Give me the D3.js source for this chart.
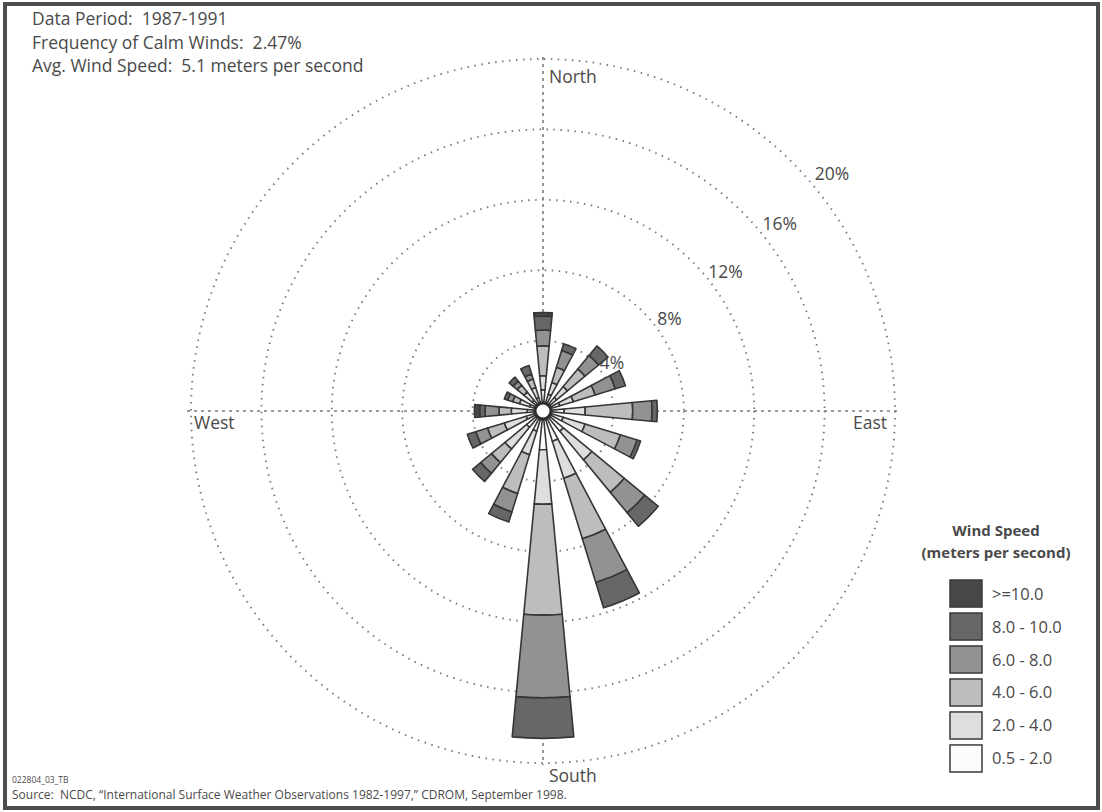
<!DOCTYPE html>
<html>
<head>
<meta charset="utf-8">
<script src="https://cdn.jsdelivr.net/npm/d3@7"></script>
<style>
    body { margin: 0; background: #fff; }
    #rose { width: 1102px; height: 812px; }
    text { font-family: "Open Sans", "Noto Sans", sans-serif; fill: #4a4a4a; }
</style>
</head>
<body>
<div id="rose"></div>
<script>
// 16 compass directions, clockwise from north
let directions = ["N", "NNE", "NE", "ENE", "E", "ESE", "SE", "SSE", "S", "SSW", "SW", "WSW", "W", "WNW", "NW", "NNW"];

// frequency (%) of each speed band per direction
let band_0_5_2  = [1.2, 1.0, 1.0, 1.0, 1.2, 1.2, 1.5, 1.8, 2.2, 1.2, 1.2, 1.0, 0.9, 0.8, 0.8, 0.8];
let band_2_4    = [0.8, 0.7, 0.8, 0.8, 1.2, 1.3, 2.1, 2.2, 3.1, 1.4, 1.6, 1.3, 0.9, 0.6, 0.6, 0.6];
let band_4_6    = [1.7, 0.9, 1.3, 1.3, 2.7, 2.1, 2.4, 3.6, 6.3, 2.3, 1.0, 1.0, 0.7, 0.4, 0.5, 0.5];
let band_6_8    = [0.9, 1.0, 1.0, 1.2, 1.1, 1.0, 1.5, 2.6, 4.7, 1.1, 0.8, 0.7, 0.8, 0.3, 0.3, 0.3];
let band_8_10   = [0.8, 0.4, 0.7, 0.6, 0.3, 0.2, 1.0, 1.5, 2.3, 0.6, 0.6, 0.5, 0.3, 0.2, 0.3, 0.5];
let band_10_up  = [0.2, 0.0, 0.0, 0.0, 0.0, 0.0, 0.0, 0.0, 0.0, 0.0, 0.0, 0.0, 0.3, 0.0, 0.0, 0.0];

// legend, inner band first
let bandKeys   = ["b1", "b2", "b3", "b4", "b5", "b6"];
let bandLabels = ["0.5 - 2.0", "2.0 - 4.0", "4.0 - 6.0", "6.0 - 8.0", "8.0 - 10.0", ">=10.0"];
let bandColors = ["#fbfbfb", "#dedede", "#bdbdbd", "#929292", "#676767", "#474747"];

let ringTicks  = [4, 8, 12, 16, 20];
let ringLabels = ["4%", "8%", "12%", "16%", "20%"];

let notes = ["Data Period:  1987-1991", "Frequency of Calm Winds:  2.47%", "Avg. Wind Speed:  5.1 meters per second"];
let sourceId = "022804_03_TB";
let sourceText = "Source:  NCDC, \u201cInternational Surface Weather Observations 1982-1997,\u201d CDROM, September 1998.";

let width = 1102;
let height = 812;
let cx = 543;
let cy = 411;

let svg, rose;
let rScale = d3.scaleLinear().domain([0, 20]).range([0, 352]);
let aScale = d3.scaleLinear().domain([0, directions.length]).range([0, 2 * Math.PI]);

function initSvg() {
    svg = d3.select("#rose").append("svg")
        .attr("width", width)
        .attr("height", height);

    // frame round the picture
    svg.append("rect")
        .attr("x", 5).attr("y", 4)
        .attr("width", width - 9).attr("height", height - 8)
        .attr("fill", "#fff")
        .attr("stroke", "#4d4d4d")
        .attr("stroke-width", 4);

    rose = svg.append("g").attr("transform", "translate(" + cx + "," + cy + ")");
}

function drawGrid() {
    let rMax = rScale(20);

    rose.selectAll(".ring")
        .data(ringTicks)
        .enter()
        .append("circle")
        .attr("class", "ring")
        .attr("r", d => rScale(d))
        .attr("fill", "none")
        .attr("stroke", "#7a7a7a")
        .attr("stroke-width", 1.9)
        .attr("stroke-dasharray", "1.5,5.5");

    // N-S and E-W axis
    rose.append("line")
        .attr("x1", 0).attr("y1", -rMax - 2)
        .attr("x2", 0).attr("y2", rMax + 2)
        .attr("stroke", "#7a7a7a").attr("stroke-width", 1.6)
        .attr("stroke-dasharray", "3,4");
    rose.append("line")
        .attr("x1", -rMax - 4).attr("y1", 0)
        .attr("x2", rMax + 4).attr("y2", 0)
        .attr("stroke", "#7a7a7a").attr("stroke-width", 1.6)
        .attr("stroke-dasharray", "3,4");

    // ring labels along the NE side, drifting a little toward north on the outer rings
    let ang = d => (56 - 0.27 * d) * Math.PI / 180;
    let dist = d => rScale(d) + 12 + d * 0.5;
    rose.selectAll(".ring_label")
        .data(ringTicks)
        .enter()
        .append("text")
        .attr("class", "ring_label")
        .attr("x", d => dist(d) * Math.sin(ang(d)))
        .attr("y", d => -dist(d) * Math.cos(ang(d)))
        .attr("dy", "0.35em")
        .attr("text-anchor", "middle")
        .attr("font-size", 17.5)
        .text((d, i) => ringLabels[i]);

    rose.append("text").attr("x", 6).attr("y", -rMax + 24).attr("font-size", 17.5).text("North");
    rose.append("text").attr("x", 6).attr("y", rMax + 19).attr("font-size", 17.5).text("South");
    rose.append("text").attr("x", -rMax + 3).attr("y", 18).attr("font-size", 17.5).text("West");
    rose.append("text").attr("x", rMax - 8).attr("y", 18).attr("font-size", 17.5)
        .attr("text-anchor", "end").text("East");
}

function drawPetals() {
    let table = directions.map((d, i) => ({
        dir: d,
        b1: band_0_5_2[i],
        b2: band_2_4[i],
        b3: band_4_6[i],
        b4: band_6_8[i],
        b5: band_8_10[i],
        b6: band_10_up[i]
    }));

    let series = d3.stack().keys(bandKeys)(table);
    let half = 5.4 * Math.PI / 180;

    let arc = d3.arc()
        .innerRadius(d => Math.max(rScale(d[0]), 9))
        .outerRadius(d => rScale(d[1]))
        .startAngle(d => aScale(directions.indexOf(d.data.dir)) - half)
        .endAngle(d => aScale(directions.indexOf(d.data.dir)) + half);

    let layer = rose.selectAll(".band")
        .data(series)
        .enter()
        .append("g")
        .attr("class", "band")
        .attr("fill", (d, i) => bandColors[i]);

    layer.selectAll("path")
        .data(d => d.filter(p => p[1] - p[0] > 0))
        .enter()
        .append("path")
        .attr("d", arc)
        .attr("stroke", "#363636")
        .attr("stroke-width", 1.6)
        .attr("stroke-linejoin", "round");

    // calm circle in the middle
    rose.append("circle")
        .attr("r", 8)
        .attr("fill", "#fff")
        .attr("stroke", "#2e2e2e")
        .attr("stroke-width", 3);
}

function drawLegend() {
    let lg = svg.append("g").attr("transform", "translate(950,0)");
    lg.append("text").attr("x", 46).attr("y", 536)
        .attr("text-anchor", "middle").attr("font-size", 15).attr("font-weight", "bold")
        .text("Wind Speed");
    lg.append("text").attr("x", 46).attr("y", 558)
        .attr("text-anchor", "middle").attr("font-size", 15).attr("font-weight", "bold")
        .text("(meters per second)");

    let items = bandLabels.map((d, i) => ({label: d, color: bandColors[i]})).reverse();
    let yScale = d3.scaleBand().domain(items.map(d => d.label)).range([580, 772]).paddingInner(0.18);

    lg.selectAll(".legend")
        .data(items)
        .enter()
        .append("rect")
        .attr("class", "legend")
        .attr("x", 0)
        .attr("y", d => yScale(d.label))
        .attr("width", 32)
        .attr("height", yScale.bandwidth())
        .attr("fill", d => d.color)
        .attr("stroke", "#3a3a3a")
        .attr("stroke-width", 1.5);

    lg.selectAll(".legend_text")
        .data(items)
        .enter()
        .append("text")
        .attr("class", "legend_text")
        .attr("x", 42)
        .attr("y", d => yScale(d.label) + yScale.bandwidth() / 2 + 6)
        .attr("font-size", 16.5)
        .text(d => d.label);
}

function drawNotes() {
    svg.selectAll(".note")
        .data(notes)
        .enter()
        .append("text")
        .attr("class", "note")
        .attr("x", 32)
        .attr("y", (d, i) => 25 + i * 23.5)
        .attr("font-size", 17.5)
        .style("white-space", "pre")
        .text(d => d);

    svg.append("text").attr("x", 12).attr("y", 783).attr("font-size", 8.5).text(sourceId);
    svg.append("text").attr("x", 12).attr("y", 799).attr("font-size", 12)
        .style("white-space", "pre").text(sourceText);
}

function draw() {
    initSvg();
    drawGrid();
    drawPetals();
    drawLegend();
    drawNotes();
}
draw();
</script>
</body>
</html>
